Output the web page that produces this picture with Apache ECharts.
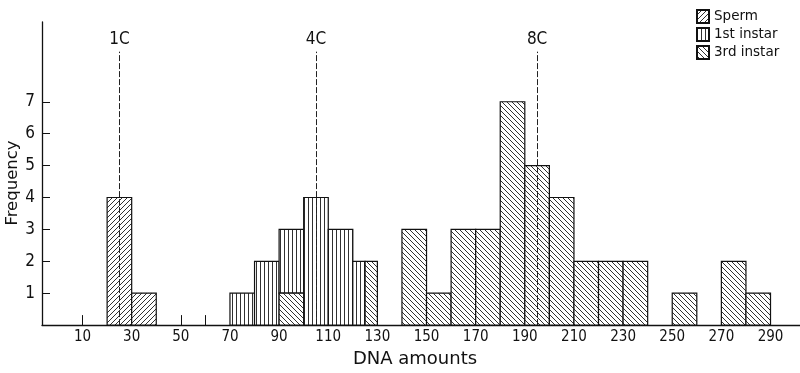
<!DOCTYPE html>
<html>
<head>
<meta charset="utf-8">
<script src="https://cdn.jsdelivr.net/npm/echarts@6/dist/echarts.min.js"></script>
<style>
html,body{margin:0;padding:0;background:#fff;}
#chart{width:800px;height:373px;}
</style>
</head>
<body>
<div id="chart"></div>
<script>
// ---- data (DNA amount bins: lower edge, upper edge, frequency) ----
const spermLo = [20, 30];
const spermHi = [30, 40];
const spermCount = [4, 1];

const instar1Lo = [70, 80, 90, 100, 110, 120];
const instar1Hi = [80, 90, 100, 110, 120, 125];
const instar1Count = [1, 2, 2, 4, 3, 2];

const instar3Lo = [90, 125, 140, 150, 160, 170, 180, 190, 200, 210, 220, 230, 250, 270, 280];
const instar3Hi = [100, 130, 150, 160, 170, 180, 190, 200, 210, 220, 230, 240, 260, 280, 290];
const instar3Count = [1, 2, 3, 1, 3, 3, 7, 5, 4, 2, 2, 2, 1, 2, 1];

const xTickLabels = [10, 30, 50, 70, 90, 110, 130, 150, 170, 190, 210, 230, 250, 270, 290];
const xTickMarks = [10, 50, 60];
const yTickLabels = [1, 2, 3, 4, 5, 6, 7];

const refNames = ['1C', '4C', '8C'];
const refPos = [25, 105, 195];
const refTop = 8.57;

// ---- hatch patterns ----
function makeTile(kind) {
  const s = kind === 'v' ? 4 : 5;
  const c = document.createElement('canvas');
  c.width = s; c.height = s;
  const g = c.getContext('2d');
  g.fillStyle = '#fff';
  g.fillRect(0, 0, s, s);
  g.strokeStyle = '#1a1a1a';
  g.lineWidth = 0.9;
  g.beginPath();
  if (kind === 'v') {
    g.moveTo(0.5, 0); g.lineTo(0.5, s);
  } else {
    for (let i = -s; i <= s; i += s) {
      if (kind === 'f') { g.moveTo(i, s); g.lineTo(i + s, 0); }
      else { g.moveTo(i, 0); g.lineTo(i + s, s); }
    }
  }
  g.stroke();
  return { image: c, repeat: 'repeat' };
}
const patSperm = makeTile('f');
const patI1 = makeTile('v');
const patI3 = makeTile('b');

// stacking: 1st instar sits on top of any 3rd instar bar in the same bin
function baseFor(lo, hi) {
  let b = 0;
  for (let i = 0; i < instar3Lo.length; i++) {
    if (instar3Lo[i] <= lo && instar3Hi[i] >= hi) b += instar3Count[i];
  }
  return b;
}

const spermData = spermLo.map((lo, i) => [lo, spermHi[i], 0, spermCount[i]]);
const i3Data = instar3Lo.map((lo, i) => [lo, instar3Hi[i], 0, instar3Count[i]]);
const i1Data = instar1Lo.map((lo, i) => {
  const b = baseFor(lo, instar1Hi[i]);
  return [lo, instar1Hi[i], b, b + instar1Count[i]];
});

function makeRender(pat) {
  return function (params, api) {
    const p0 = api.coord([api.value(0), api.value(2)]);
    const p1 = api.coord([api.value(1), api.value(3)]);
    return {
      type: 'rect',
      shape: { x: p0[0], y: p1[1], width: p1[0] - p0[0], height: p0[1] - p1[1] },
      style: { fill: pat, stroke: '#111', lineWidth: 1.2 }
    };
  };
}

const refLines = refPos.map((x, i) => [
  { coord: [x, 0] },
  { coord: [x, refTop], name: refNames[i] }
]);

const numFont = "'Liberation Sans Narrow', 'DejaVu Sans Condensed', sans-serif";

const chart = echarts.init(document.getElementById('chart'), null, { renderer: 'canvas' });
chart.setOption({
  animation: false,
  backgroundColor: '#fff',
  grid: { left: 42, right: 0, top: 22, bottom: 44.7 },
  legend: {
    orient: 'vertical',
    left: 691,
    top: 4,
    itemWidth: 12,
    itemHeight: 13,
    itemGap: 3,
    icon: 'rect',
    textStyle: { fontFamily: 'DejaVu Sans', fontSize: 13.5, color: '#111' },
    data: ['Sperm', '1st instar', '3rd instar']
  },
  xAxis: {
    type: 'value',
    min: -6.5,
    max: 302,
    splitLine: { show: false },
    axisLine: { show: true, onZero: false, lineStyle: { color: '#111', width: 1.3 } },
    axisTick: { show: true, inside: true, length: 10, customValues: xTickMarks, lineStyle: { color: '#111' } },
    axisLabel: { customValues: xTickLabels, margin: 5, fontFamily: numFont, fontSize: 15, color: '#111' },
    name: 'DNA amounts',
    nameLocation: 'middle',
    nameGap: 24,
    nameTextStyle: { fontFamily: 'DejaVu Sans', fontSize: 18, color: '#111', padding: [0, 12, 0, 0] }
  },
  yAxis: {
    type: 'value',
    min: 0,
    max: 9.5,
    splitLine: { show: false },
    axisLine: { show: true, onZero: false, lineStyle: { color: '#111', width: 1.3 } },
    axisTick: { show: true, inside: true, length: 8, customValues: yTickLabels, lineStyle: { color: '#111' } },
    axisLabel: { customValues: yTickLabels, margin: 7, fontFamily: numFont, fontSize: 17, color: '#111' }
  },
  graphic: [{
    type: 'text',
    x: 4,
    y: 183,
    rotation: Math.PI / 2,
    style: {
      text: 'Frequency',
      font: "16.5px 'DejaVu Sans'",
      fill: '#111',
      align: 'center',
      verticalAlign: 'top'
    }
  }],
  series: [
    {
      name: 'Sperm', type: 'custom', renderItem: makeRender(patSperm),
      itemStyle: { color: patSperm, borderColor: '#111', borderWidth: 1 },
      encode: { x: [0, 1], y: [2, 3] }, data: spermData
    },
    {
      name: '1st instar', type: 'custom', renderItem: makeRender(patI1),
      itemStyle: { color: patI1, borderColor: '#111', borderWidth: 1 },
      encode: { x: [0, 1], y: [2, 3] }, data: i1Data
    },
    {
      name: '3rd instar', type: 'custom', renderItem: makeRender(patI3),
      itemStyle: { color: patI3, borderColor: '#111', borderWidth: 1 },
      encode: { x: [0, 1], y: [2, 3] }, data: i3Data,
      markLine: {
        silent: true,
        symbol: 'none',
        z: 10,
        lineStyle: { color: '#222', width: 1, type: [6, 2] },
        label: {
          show: true, position: 'end', distance: 4,
          formatter: p => p.name,
          fontFamily: numFont, fontSize: 17, color: '#111'
        },
        data: refLines
      }
    }
  ]
});
</script>
</body>
</html>
